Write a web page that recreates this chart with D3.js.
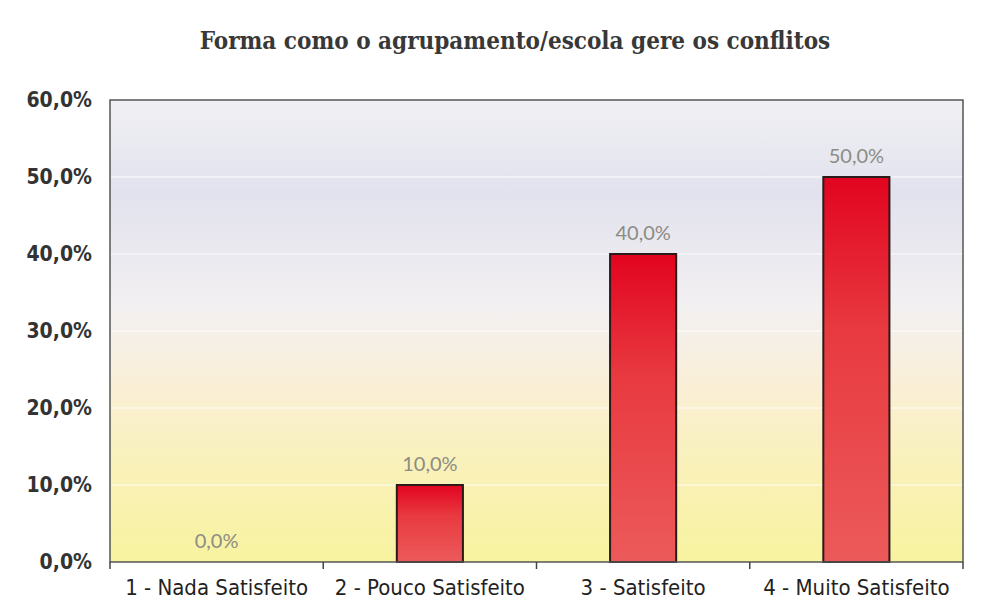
<!DOCTYPE html>
<html>
<head>
<meta charset="utf-8">
<script src="https://cdn.jsdelivr.net/npm/d3@7"></script>
<style>
  html, body { margin: 0; padding: 0; background: #fff; }
  svg { display: block; }
</style>
</head>
<body>
<div id="chart"></div>
<script>
// Forma como o agrupamento/escola gere os conflitos

const title = 'Forma como o agrupamento/escola gere os conflitos';
const categories = ['1 - Nada Satisfeito', '2 - Pouco Satisfeito', '3 - Satisfeito', '4 - Muito Satisfeito'];
const values = [0.0, 0.10, 0.40, 0.50];
const yTicks = [0, 0.1, 0.2, 0.3, 0.4, 0.5, 0.6];

const width = 982, height = 605;
const margin = { top: 100, right: 19, bottom: 43, left: 110 };
const innerW = width - margin.left - margin.right;
const innerH = height - margin.top - margin.bottom;

const pct = d3.format('.1f');
const fmt = v => pct(v * 100).replace('.', ',') + '%';

const svg = d3.select('#chart')
    .append('svg')
    .attr('width', width)
    .attr('height', height);

const defs = svg.append('defs');

// plot background: grey top, lavender band, white middle, yellow bottom
const bg = defs.append('linearGradient')
    .attr('id', 'bg')
    .attr('x1', 0).attr('y1', 0).attr('x2', 0).attr('y2', 1);
[
    [0, '#f0f0f4'],
    [0.2, '#e2e2ee'],
    [0.45, '#f2f0f1'],
    [0.62, '#faefd6'],
    [0.8, '#f9f1b8'],
    [1, '#f8f3a0']
].forEach(([o, c]) => bg.append('stop').attr('offset', o).attr('stop-color', c));

const barGrad = defs.append('linearGradient')
    .attr('id', 'bar')
    .attr('x1', 0).attr('y1', 0).attr('x2', 0).attr('y2', 1);
[
    [0, '#e20420'],
    [0.4, '#e83a40'],
    [1, '#ec5a5a']
].forEach(([o, c]) => barGrad.append('stop').attr('offset', o).attr('stop-color', c));

const chart = svg.append('g')
    .attr('transform', `translate(${margin.left},${margin.top})`);

// Scales
const x = d3.scaleBand()
    .domain(categories)
    .range([0, innerW])
    .paddingInner(0.69)
    .paddingOuter(0.345);

const y = d3.scaleLinear()
    .domain([0, 0.6])
    .range([innerH, 0]);

// Background
chart.append('rect')
    .attr('width', innerW)
    .attr('height', innerH)
    .attr('fill', 'url(#bg)');

// Gridlines
chart.append('g')
    .selectAll('line')
    .data(yTicks.slice(1, -1))
    .join('line')
    .attr('x1', 0)
    .attr('x2', innerW)
    .attr('y1', d => y(d))
    .attr('y2', d => y(d))
    .attr('stroke', '#ffffff')
    .attr('stroke-opacity', 0.6)
    .attr('stroke-width', 1.5);

// Bars
chart.append('g')
    .selectAll('rect')
    .data(values.map((v, i) => ({ k: categories[i], v })).filter(d => d.v > 0))
    .join('rect')
    .attr('x', d => x(d.k))
    .attr('y', d => y(d.v))
    .attr('width', x.bandwidth())
    .attr('height', d => innerH - y(d.v))
    .attr('fill', 'url(#bar)')
    .attr('stroke', '#2a1a1a')
    .attr('stroke-width', 2);

// Value labels
chart.append('g')
    .selectAll('text')
    .data(values.map((v, i) => ({ k: categories[i], v })))
    .join('text')
    .attr('x', d => x(d.k) + x.bandwidth() / 2)
    .attr('y', d => y(d.v) - 14)
    .attr('text-anchor', 'middle')
    .style('font-family', 'Lato, "Open Sans", sans-serif')
    .style('font-size', '20px')
    .style('fill', '#8c8c84')
    .text(d => fmt(d.v));

// Plot frame
chart.append('rect')
    .attr('width', innerW)
    .attr('height', innerH)
    .attr('fill', 'none')
    .attr('stroke', '#555')
    .attr('stroke-width', 1.5);

// Axes
const yAxis = chart.append('g')
    .call(d3.axisLeft(y).tickValues(yTicks).tickFormat(fmt).tickSize(0).tickPadding(18));

const xAxis = chart.append('g')
    .attr('transform', `translate(0,${innerH})`)
    .call(d3.axisBottom(x).tickSize(0).tickPadding(14));

// category boundary ticks
chart.append('g')
    .selectAll('line')
    .data(d3.range(categories.length + 1))
    .join('line')
    .attr('x1', i => i * innerW / categories.length)
    .attr('x2', i => i * innerW / categories.length)
    .attr('y1', innerH)
    .attr('y2', innerH + 7)
    .attr('stroke', '#444')
    .attr('stroke-width', 1.5);

[yAxis, xAxis].forEach(a => {
    a.select('.domain').remove();
    a.selectAll('text')
        .style('font-family', '"DejaVu Sans Condensed", "Open Sans", sans-serif')
        .style('font-size', '22px')
        .style('fill', '#222');
});
yAxis.selectAll('text')
    .style('font-size', '21px')
    .style('font-weight', 'bold')
    .style('fill', '#333');
xAxis.selectAll('text').attr('dy', '0.85em');

// Title
svg.append('text')
    .attr('x', 515)
    .attr('y', 49)
    .attr('text-anchor', 'middle')
    .style('font-family', '"DejaVu Serif Condensed", "Liberation Serif", serif')
    .style('font-weight', 'bold')
    .style('font-size', '24px')
    .style('fill', '#383838')
    .text(title);
</script>
</body>
</html>
